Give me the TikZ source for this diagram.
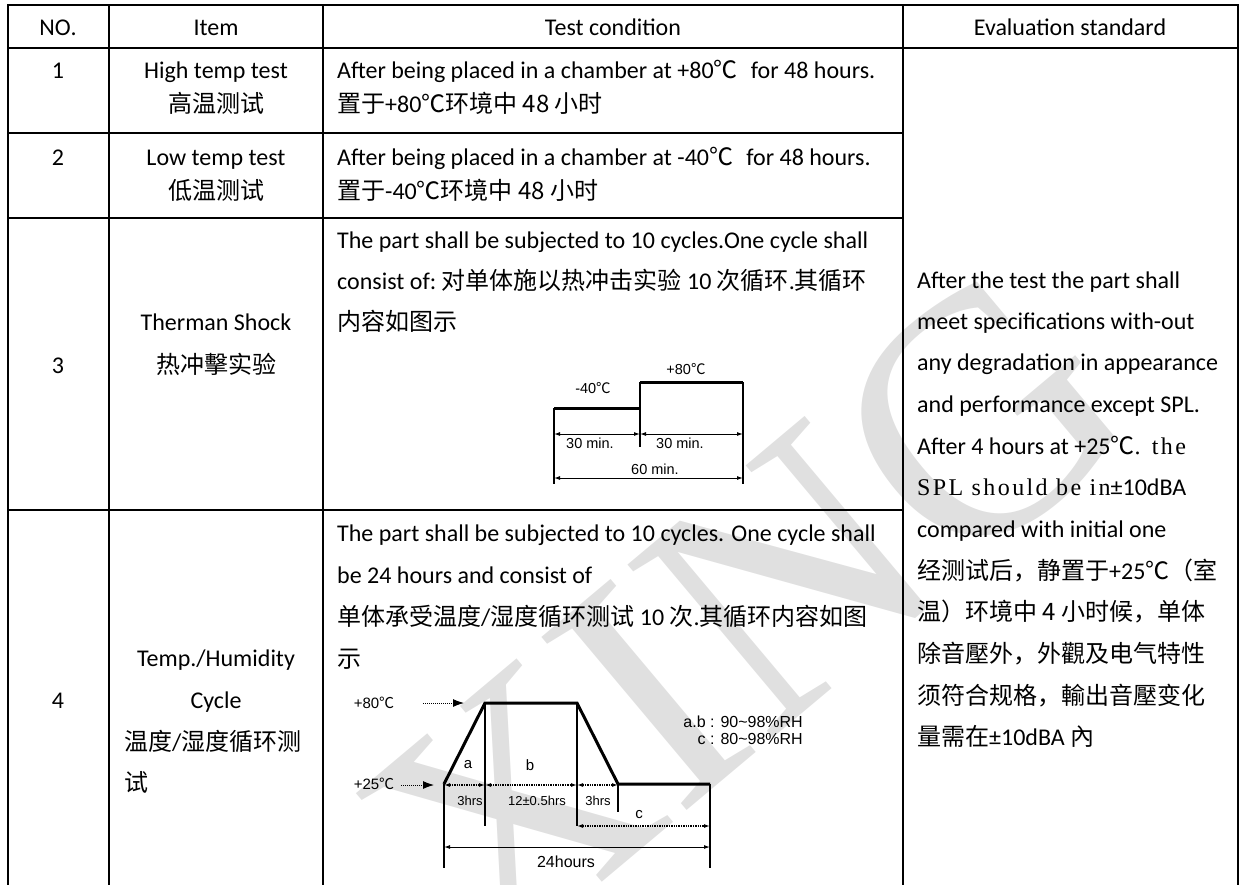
\documentclass[tikz,border=0pt]{standalone}
\usepackage{fontspec}
\setmainfont{Carlito}
\newfontfamily\cjk{Noto Sans CJK SC}
\newfontfamily\arialf{Liberation Sans}
\newfontfamily\simlat[LetterSpace=10]{Liberation Serif}
\newfontfamily\wmfont{Liberation Serif}
\usetikzlibrary{arrows.meta}
\newcommand{\zhs}[1]{{\cjk #1}}
\newcommand{\degc}{{\cjk ℃}}
\tikzset{
  tbl/.style={line width=2.8pt},
  dline/.style={line width=1.2pt},
  dthick/.style={line width=3pt},
  dimarr/.style={line width=1pt,{Latex[length=6pt,width=4pt]}-{Latex[length=6pt,width=4pt]}},
  dotarr/.style={line width=1.3pt,dash pattern=on 1.3pt off 1.1pt,{Latex[length=6pt,width=4pt]}-{Latex[length=6pt,width=4pt]}},
  pointer/.style={line width=0.9pt,dash pattern=on 1pt off 1pt,-{Latex[length=11pt,width=8pt]}},
  body/.style={font=\fontsize{24}{24}\selectfont,inner sep=0pt},
  lt/.style={body,anchor=base west},
  ct/.style={body,anchor=base},
  lab/.style={inner sep=0pt,anchor=center},
}
\begin{document}
\begin{tikzpicture}[x=1pt,y=-1pt]
\useasboundingbox (0,0) rectangle (1245,884);
% watermark
\node[rotate=40,text=black!12,inner sep=0pt,font=\wmfont\fontsize{345}{345}\selectfont] (wm) at (745,615) {XING};
% table grid
\draw[tbl] (8,5) -- (1238,5);
\draw[tbl] (8,48) -- (1238,48);
\draw[tbl] (8,133) -- (903,133);
\draw[tbl] (8,218) -- (903,218);
\draw[tbl] (8,510) -- (903,510);
\draw[tbl] (8,4) -- (8,890);
\draw[tbl] (109,4) -- (109,890);
\draw[tbl] (323,4) -- (323,890);
\draw[tbl] (903,4) -- (903,890);
\draw[tbl] (1238,4) -- (1238,890);
% header
\node[ct] (hno) at (58,35) {NO.};
\node[ct] (hit) at (216,35) {Item};
\node[ct] (htc) at (613,35) {Test condition};
\node[ct] (hev) at (1070,35) {Evaluation standard};
% row 1
\node[ct] (n1) at (58,78) {1};
\node[ct] (i1a) at (216,78) {High temp test};
\node[ct] (i1b) at (216,112) {\zhs{高温测试}};
\node[lt] (t1a) at (337,78) {After being placed in a chamber at +80\degc\hspace{0.55em}for 48 hours.};
\node[lt] (t1b) at (337,112) {\zhs{置于}+80\zhs{℃环境中 48 小时}};
% row 2
\node[ct] (n2) at (58,165) {2};
\node[ct] (i2a) at (216,165) {Low temp test};
\node[ct] (i2b) at (216,199) {\zhs{低温测试}};
\node[lt] (t2a) at (337,165) {After being placed in a chamber at -40\degc\hspace{0.55em}for 48 hours.};
\node[lt] (t2b) at (337,199) {\zhs{置于}-40\zhs{℃环境中 48 小时}};
% row 3
\node[ct] (n3) at (58,373) {3};
\node[ct] (i3a) at (216,330) {Therman Shock};
\node[ct] (i3b) at (216,373) {\zhs{热冲擊实验}};
\node[lt] (t3a) at (337,248) {The part shall be subjected to 10 cycles.One cycle shall};
\node[lt] (t3b) at (337,289) {consist of:\ \zhs{对单体施以热冲击实验} 10 \zhs{次循环}.\zhs{其循环}};
\node[lt] (t3c) at (337,330) {\zhs{内容如图示}};
% row 4
\node[ct] (n4) at (58,708) {4};
\node[ct] (i4a) at (216,666) {Temp./Humidity};
\node[ct] (i4b) at (216,708) {Cycle};
\node[lt] (i4c) at (124,750) {\zhs{温度}/\zhs{湿度循环测}};
\node[lt] (i4d) at (124,791) {\zhs{试}};
\node[lt] (t4a) at (337,541) {The part shall be subjected to 10 cycles. One cycle shall};
\node[lt] (t4b) at (337,583) {be 24 hours and consist of};
\node[lt] (t4c) at (337,625) {\zhs{单体承受温度}/\zhs{湿度循环测试} 10 \zhs{次}.\zhs{其循环内容如图}};
\node[lt] (t4d) at (337,667) {\zhs{示}};
% evaluation
\node[lt] (e1) at (917,288) {After the test the part shall};
\node[lt] (e2) at (917,329) {meet specifications with-out};
\node[lt] (e3) at (917,370) {any degradation in appearance};
\node[lt] (e4) at (917,412) {and performance except SPL.};
\node[lt] (e5) at (917,454) {After 4 hours at +25\degc{\simlat. the}};
\node[lt] (e6) at (917,495) {{\simlat SPL should be in}±10dBA};
\node[lt] (e7) at (917,537) {compared with initial one};
\node[lt] (e8) at (917,579) {\zhs{经测试后，静置于}+25\zhs{℃（室}};
\node[lt] (e9) at (917,620) {\zhs{温）环境中 4 小时候，单体}};
\node[lt] (e10) at (917,662) {\zhs{除音壓外，外觀及电气特性}};
\node[lt] (e11) at (917,704) {\zhs{须符合规格，輸出音壓变化}};
\node[lt] (e12) at (917,745) {\zhs{量需在}±10dBA \zhs{內}};
% ---------- thermal shock diagram ----------
\coordinate (s1) at (554,408);
\coordinate (s2) at (640,408);
\coordinate (s3) at (640,382);
\coordinate (s4) at (743,382);
\coordinate (s1b) at (554,484);
\coordinate (s3b) at (640,447);
\coordinate (s4b) at (743,484);
\coordinate (d1l) at (554,434);
\coordinate (d1m) at (640,434);
\coordinate (d1r) at (743,434);
\coordinate (d2l) at (554,478);
\coordinate (d2r) at (743,478);
\draw[dline] (s1) -- (s1b);
\draw[dline] (s3) -- (s3b);
\draw[dline] (s4) -- (s4b);
\draw[dthick] (s1) -- (s2);
\draw[dthick] (s3) -- (s4);
\draw[dimarr] (d1l) -- (d1m);
\draw[dimarr] (d1m) -- (d1r);
\draw[dimarr] (d2l) -- (d2r);
\node[lab,font=\arialf\fontsize{14.5}{14.5}\selectfont] (lm40) at (593,388) {-40\degc};
\node[lab,font=\arialf\fontsize{14.5}{14.5}\selectfont] (lp80) at (686,369) {+80\degc};
\node[lab,font=\arialf\fontsize{14.5}{14.5}\selectfont] (l30a) at (590,443) {30 min.};
\node[lab,font=\arialf\fontsize{14.5}{14.5}\selectfont] (l30b) at (680,443) {30 min.};
\node[lab,font=\arialf\fontsize{14.5}{14.5}\selectfont] (l60) at (655,469) {60 min.};
% ---------- temp/humidity diagram ----------
\coordinate (p0) at (444,784);
\coordinate (p1) at (485,703);
\coordinate (p2) at (577,703);
\coordinate (p3) at (618,784);
\coordinate (p4) at (710,784);
\coordinate (v0) at (444,868);
\coordinate (v1) at (485,826);
\coordinate (v2) at (577,826);
\coordinate (v3) at (618,812);
\coordinate (v4) at (710,868);
\coordinate (q0) at (444,785);
\coordinate (q1) at (485,785);
\coordinate (q2) at (577,785);
\coordinate (q3) at (618,785);
\coordinate (c0) at (577,826);
\coordinate (c1) at (710,826);
\coordinate (h0) at (444,847);
\coordinate (h1) at (710,847);
\coordinate (ar80s) at (423,703);
\coordinate (ar80e) at (464,703);
\coordinate (ar25s) at (401,785);
\coordinate (ar25e) at (434,785);
\draw[dline] (p0) -- (v0);
\draw[dline] (p1) -- (v1);
\draw[dline] (p2) -- (v2);
\draw[dline] (p3) -- (v3);
\draw[dline] (p4) -- (v4);
\draw[dthick,line join=miter] (p0) -- (p1) -- (p2) -- (p3) -- (p4);
\draw[dotarr] (q0) -- (q1);
\draw[dotarr] (q1) -- (q2);
\draw[dotarr] (q2) -- (q3);
\draw[dotarr] (c0) -- (c1);
\draw[dimarr] (h0) -- (h1);
\draw[pointer] (ar80s) -- (ar80e);
\draw[pointer] (ar25s) -- (ar25e);
\node[lab,font=\arialf\fontsize{15}{15}\selectfont] (l80) at (374,703) {+80\degc};
\node[lab,font=\arialf\fontsize{15}{15}\selectfont] (l25) at (374,784) {+25\degc};
\node[lab,font=\arialf\fontsize{15}{15}\selectfont] (la) at (468,765) {a};
\node[lab,font=\arialf\fontsize{15}{15}\selectfont] (lb) at (530,765) {b};
\node[lab,font=\arialf\fontsize{15}{15}\selectfont] (lc) at (639,815) {c};
\node[lab,font=\arialf\fontsize{13}{13}\selectfont] (l3a) at (470,801) {3hrs};
\node[lab,font=\arialf\fontsize{13}{13}\selectfont] (l12) at (537,801) {12±0.5hrs};
\node[lab,font=\arialf\fontsize{13}{13}\selectfont] (l3b) at (598,801) {3hrs};
\node[lab,font=\arialf\fontsize{16}{16}\selectfont] (l24) at (566,862) {24hours};
\node[inner sep=0pt,anchor=east,font=\arialf\fontsize{16}{16}\selectfont] (rh1) at (803,722) {a.b : 90\textasciitilde98\%RH};
\node[inner sep=0pt,anchor=east,font=\arialf\fontsize{16}{16}\selectfont] (rh2) at (803,739) {c : 80\textasciitilde98\%RH};
\end{tikzpicture}
\end{document}
